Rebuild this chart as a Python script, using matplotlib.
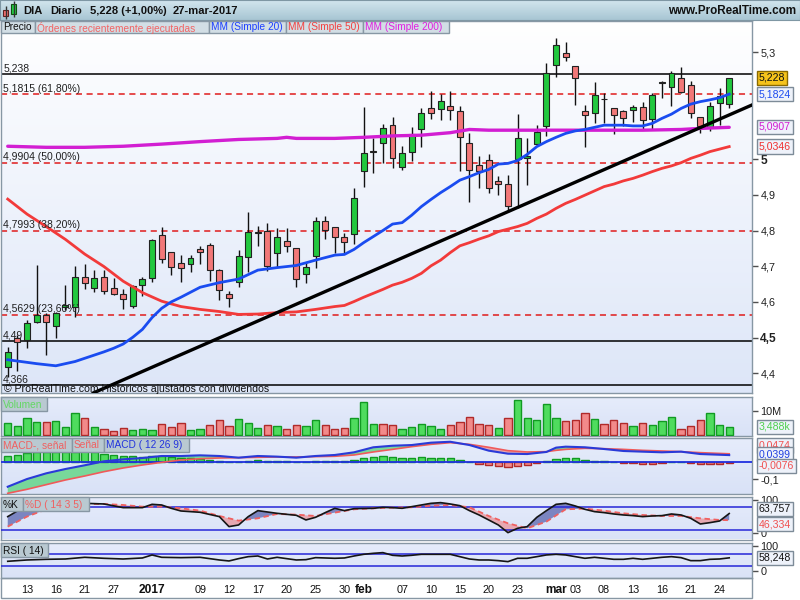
import numpy as np
import matplotlib
matplotlib.use("Agg")
import matplotlib.pyplot as plt
from matplotlib.patches import Rectangle
from matplotlib.colors import LinearSegmentedColormap

plt.rcParams['font.family'] = ['Liberation Sans', 'DejaVu Sans']

# ---------------- data ----------------
opens = [4.417, 4.500, 4.493, 4.543, 4.563, 4.533, 4.586, 4.585, 4.671, 4.638,
         4.671, 4.638, 4.621, 4.588, 4.647, 4.666, 4.787, 4.741, 4.708, 4.706,
         4.747, 4.759, 4.689, 4.621, 4.655, 4.725, 4.794, 4.799, 4.736, 4.771,
         4.750, 4.678, 4.729, 4.828, 4.809, 4.781, 4.789, 4.968, 5.020, 5.044,
         5.095, 4.977, 5.021, 5.083, 5.142, 5.139, 5.149, 5.136, 5.044, 4.983,
         4.997, 4.939, 4.930, 5.000, 5.002, 5.042, 5.093, 5.264, 5.296, 5.261,
         5.135, 5.128, 5.168, 5.142, 5.136, 5.138, 5.147, 5.111, 5.212, 5.203,
         5.226, 5.208, 5.119, 5.091, 5.156, 5.154]
highs = [4.474, 4.507, 4.549, 4.703, 4.568, 4.573, 4.647, 4.701, 4.705, 4.689,
         4.689, 4.666, 4.635, 4.647, 4.671, 4.775, 4.811, 4.741, 4.731, 4.731,
         4.757, 4.764, 4.692, 4.630, 4.745, 4.853, 4.813, 4.822, 4.806, 4.806,
         4.750, 4.713, 4.837, 4.841, 4.809, 4.792, 4.918, 5.147, 5.058, 5.097,
         5.117, 5.037, 5.091, 5.142, 5.191, 5.182, 5.191, 5.149, 5.074, 5.009,
         5.014, 4.953, 4.955, 5.126, 5.058, 5.095, 5.268, 5.340, 5.329, 5.261,
         5.152, 5.217, 5.184, 5.142, 5.138, 5.152, 5.161, 5.184, 5.219, 5.247,
         5.259, 5.220, 5.119, 5.161, 5.200, 5.228]
lows = [4.390, 4.407, 4.470, 4.540, 4.451, 4.498, 4.577, 4.559, 4.635, 4.629,
        4.621, 4.619, 4.579, 4.582, 4.617, 4.657, 4.708, 4.675, 4.657, 4.685,
        4.706, 4.658, 4.605, 4.587, 4.643, 4.685, 4.757, 4.687, 4.699, 4.741,
        4.643, 4.654, 4.694, 4.775, 4.738, 4.736, 4.762, 4.923, 4.962, 4.990,
        4.976, 4.969, 4.996, 5.033, 5.111, 5.109, 5.109, 4.968, 4.879, 4.920,
        4.906, 4.899, 4.853, 4.864, 4.927, 5.037, 5.065, 5.229, 5.276, 5.152,
        5.033, 5.102, 5.102, 5.069, 5.093, 5.105, 5.083, 5.083, 5.170, 5.149,
        5.185, 5.114, 5.074, 5.080, 5.095, 5.142]
closes = [4.460, 4.488, 4.540, 4.563, 4.543, 4.568, 4.590, 4.671, 4.652, 4.666,
          4.630, 4.622, 4.608, 4.644, 4.664, 4.773, 4.719, 4.699, 4.694, 4.722,
          4.739, 4.689, 4.633, 4.610, 4.729, 4.795, 4.796, 4.701, 4.781, 4.757,
          4.663, 4.697, 4.828, 4.801, 4.781, 4.769, 4.890, 5.016, 5.024, 5.086,
          5.002, 5.016, 5.069, 5.128, 5.128, 5.163, 5.138, 5.061, 4.969, 4.968,
          4.918, 4.929, 4.869, 5.058, 5.009, 5.077, 5.240, 5.320, 5.285, 5.226,
          5.124, 5.180, 5.167, 5.124, 5.114, 5.147, 5.109, 5.180, 5.215, 5.240,
          5.189, 5.128, 5.093, 5.150, 5.176, 5.228]

volume_m = [4.86, 3.75, 6.94, 5.28, 5.28, 5.83, 3.19, 9.03, 6.94, 3.19,
            2.36, 1.81, 2.78, 1.94, 2.36, 1.94, 4.44, 3.19, 4.86, 1.94,
            2.36, 4.17, 6.11, 3.75, 6.53, 4.86, 2.78, 4.17, 3.75, 2.36,
            4.17, 3.75, 6.11, 4.17, 2.50, 2.78, 6.94, 13.6, 4.44, 4.44,
            4.17, 2.36, 3.19, 4.58, 3.75, 2.36, 4.17, 5.28, 7.36, 4.58,
            4.17, 2.78, 6.94, 14.44, 6.94, 6.11, 12.78, 6.94, 5.69, 6.11,
            9.03, 6.53, 4.44, 6.11, 4.86, 3.75, 4.86, 4.17, 5.69, 7.36,
            2.36, 3.75, 6.11, 9.03, 4.17, 3.49]
volume_up = [1, 1, 1, 1, 0, 1, 1, 1, 0, 1,
             0, 0, 0, 1, 1, 1, 0, 0, 0, 1,
             1, 0, 0, 0, 1, 1, 1, 0, 1, 0,
             0, 1, 1, 0, 0, 0, 1, 1, 1, 0,
             0, 1, 1, 1, 1, 1, 0, 0, 0, 0,
             0, 1, 0, 1, 1, 1, 1, 1, 0, 0,
             0, 1, 0, 0, 0, 1, 0, 1, 1, 1,
             0, 0, 0, 1, 1, 1]

ma20_idx = [0, 3, 5, 7, 10, 11, 12, 13, 14, 15, 16, 17, 18, 20, 22, 24, 26, 28, 30, 32,
            34, 35, 36, 37, 38, 39, 40, 41, 42, 43, 44, 45, 46, 47, 48, 49, 50, 51, 52,
            53, 54, 55, 56, 57, 58, 59, 60, 61, 62, 63, 64, 65, 66, 67, 68, 69, 70, 71,
            72, 73, 74, 75]
ma20_val = [4.438, 4.427, 4.421, 4.433, 4.460, 4.470, 4.482, 4.501, 4.523, 4.556, 4.582,
            4.600, 4.613, 4.641, 4.654, 4.664, 4.689, 4.696, 4.702, 4.717, 4.731, 4.733,
            4.747, 4.766, 4.783, 4.800, 4.818, 4.822, 4.843, 4.867, 4.887, 4.906, 4.923,
            4.941, 4.951, 4.962, 4.971, 4.986, 4.988, 4.996, 5.013, 5.035, 5.049, 5.061,
            5.072, 5.079, 5.083, 5.089, 5.095, 5.095, 5.095, 5.093, 5.093, 5.100, 5.114,
            5.126, 5.142, 5.154, 5.161, 5.166, 5.172, 5.182]
ma50_idx = [0, 2, 4, 6, 8, 10, 12, 14, 16, 18, 20, 22, 24, 26, 28, 30, 32, 34, 35, 36,
            37, 38, 39, 40, 41, 42, 43, 44, 45, 46, 47, 48, 49, 50, 51, 52, 53, 54, 55,
            56, 57, 58, 59, 60, 61, 62, 63, 64, 65, 66, 67, 68, 69, 70, 71, 72, 73, 74, 75]
ma50_val = [4.888, 4.846, 4.811, 4.775, 4.734, 4.699, 4.658, 4.626, 4.602, 4.587,
            4.579, 4.573, 4.565, 4.566, 4.570, 4.572, 4.579, 4.587, 4.590, 4.601,
            4.613, 4.624, 4.635, 4.647, 4.655, 4.666, 4.680, 4.701, 4.717, 4.738,
            4.757, 4.766, 4.776, 4.785, 4.797, 4.804, 4.811, 4.820, 4.834, 4.846,
            4.862, 4.876, 4.887, 4.899, 4.911, 4.923, 4.930, 4.939, 4.946, 4.955,
            4.965, 4.974, 4.981, 4.990, 5.002, 5.011, 5.021, 5.028, 5.035]
ma200_idx = [0, 4, 8, 12, 16, 20, 24, 28, 29, 30, 34, 37, 40, 43, 46, 48, 50, 54, 60,
             66, 70, 72, 75]
ma200_val = [5.036, 5.033, 5.033, 5.036, 5.042, 5.049, 5.055, 5.058, 5.061, 5.058,
             5.058, 5.061, 5.065, 5.067, 5.074, 5.083, 5.081, 5.081, 5.081, 5.081,
             5.083, 5.086, 5.089]

fib_levels = [5.238, 5.1815, 4.9904, 4.7993, 4.5629, 4.49, 4.366]
fib_labels = ['5,238', '5,1815 (61,80%)', '4,9904 (50,00%)', '4,7993 (38,20%)',
              '4,5629 (23,60%)', '4,49', '4,366']
fib_solid = [True, False, False, False, False, True, True]

trend_idx = [8.9, 77.4]
trend_val = [4.345, 5.152]

macd_idx = [0, 2, 4, 6, 8, 10, 12, 14, 16, 18, 20, 22, 24, 26, 28, 30, 32, 34, 36, 38,
            40, 42, 44, 46, 48, 50, 52, 54, 56, 57, 58, 60, 62, 64, 66, 68, 70, 72, 75]
macd_val = [-0.143, -0.0985, -0.0655, -0.0405, -0.019, 0.004, 0.0154, 0.023, 0.0347,
            0.0347, 0.0385, 0.0347, 0.025, 0.0347, 0.031, 0.025, 0.0347, 0.0405, 0.056,
            0.085, 0.094, 0.098, 0.1117, 0.117, 0.098, 0.0655, 0.048, 0.046, 0.058,
            0.083, 0.0886, 0.085, 0.075, 0.0636, 0.0597, 0.056, 0.0597, 0.046, 0.0399]
signal_val = [-0.181, -0.158, -0.131, -0.104, -0.081, -0.056, -0.0347, -0.0173, -0.002,
              0.0116, 0.019, 0.023, 0.025, 0.027, 0.029, 0.029, 0.031, 0.033, 0.0405,
              0.058, 0.073, 0.0886, 0.102, 0.1117, 0.102, 0.085, 0.0655, 0.058, 0.0597,
              0.0674, 0.073, 0.079, 0.077, 0.073, 0.0674, 0.0636, 0.0597, 0.054, 0.0474]
hist_val = [0.0366, 0.0424, 0.052, 0.0559, 0.0559, 0.0578, 0.0578, 0.0578, 0.0617, 0.0578,
            0.0482, 0.0405, 0.0366, 0.0328, 0.027, 0.0328, 0.0328, 0.0289, 0.0231, 0.0231,
            0.0173, 0.0135, 0.0077, 0.0, 0.0, 0.0077, 0.0135, 0.0077, 0.0077, 0.0077,
            0.0, 0.0, 0.0077, 0.0077, 0.0077, 0.0077, 0.0135, 0.0231, 0.027, 0.0328,
            0.027, 0.0231, 0.0231, 0.0289, 0.0231, 0.0231, 0.0231, 0.0135, 0.0, -0.0096,
            -0.0154, -0.0231, -0.027, -0.0231, -0.0154, -0.0077, 0.0058, 0.0173, 0.0231, 0.0231,
            0.0135, 0.0077, 0.0077, 0.0, -0.0058, -0.0058, -0.0096, -0.0096, -0.0058, 0.0,
            0.0, -0.0058, -0.0096, -0.0096, -0.0096, -0.0076]

stoch_k_idx = [0, 2, 4, 6, 8, 10, 12, 14, 15, 16, 17, 18, 20, 22, 23, 24, 25, 26, 28, 30,
               31, 32, 33, 34, 35, 36, 38, 39, 40] + list(range(41, 76))
stoch_k = [55.7, 85.2, 90.4, 90.4, 90.4, 88.7, 79.1, 79.1, 87.8, 86.1, 77.4, 70.4, 67.0,
           55.7, 29.6, 33.9, 55.7, 71.3, 64.3, 59.1, 47.0, 53.9, 66.1, 77.4, 71.3, 76.5,
           77.4, 80.0, 79.1,
           77.4, 81.7, 86.1, 90.4, 92.2, 88.7, 84.3, 71.3, 60.0, 47.0, 33.9, 13.9, 25.2,
           29.6, 53.9, 71.3, 87.8, 90.4, 83.5, 74.8, 68.7, 66.1, 62.6, 60.0, 58.3, 55.7,
           57.4, 58.3, 62.6, 60.0, 51.3, 36.5, 40.0, 44.3, 63.76]
stoch_d_idx = list(range(0, 75, 2)) + [75]
stoch_d = [29.6, 55.7, 74.8, 83.5, 88.7, 88.7, 86.1, 81.7, 81.7, 77.4, 71.3, 57.4, 45.2,
           51.3, 62.6, 60.9, 57.4, 66.1, 74.8, 77.4, 79.1, 80.0, 84.3, 86.1, 80.0, 57.4,
           38.3, 25.2, 42.6, 74.8, 76.5, 71.3, 64.3, 60.0, 57.4, 57.4, 51.3, 47.0, 46.33]

rsi_idx = [0, 2, 4, 6, 8, 10, 12, 14, 15, 16, 18, 20, 22, 23, 24, 25, 26, 27, 28, 30, 31,
           32, 34, 35, 36, 37, 38, 39, 40] + list(range(41, 76))
rsi_val = [46.7, 51.1, 53.3, 54.4, 60.0, 56.7, 54.4, 57.8, 67.8, 60.0, 58.9, 60.0, 51.1,
           47.8, 55.6, 62.2, 64.4, 54.4, 60.0, 51.1, 52.2, 58.9, 56.7, 57.8, 64.4, 70.0,
           73.3, 75.6, 66.7,
           64.4, 66.7, 70.0, 70.0, 70.0, 70.0, 62.2, 54.4, 51.1, 51.1, 48.9, 45.6, 56.7,
           56.7, 62.2, 67.8, 70.0, 67.8, 62.2, 56.7, 60.0, 56.7, 53.3, 53.3, 56.7, 53.3,
           56.7, 60.0, 62.2, 58.9, 48.9, 48.9, 53.3, 54.4, 58.25]

xtick_idx = [2, 5, 8, 11, 15, 20, 23, 26, 29, 32, 35, 37, 41, 44, 47, 50, 53, 57, 59, 62,
             65, 68, 71, 74]
xtick_lab = ['13', '16', '21', '27', '2017', '09', '12', '17', '20', '25', '30', 'feb',
             '07', '10', '15', '20', '23', 'mar', '03', '08', '13', '16', '21', '24']
xtick_bold = ['2017', 'feb', 'mar']

# ---------------- layout helpers ----------------
W, H = 800.0, 600.0
fig = plt.figure(figsize=(8, 6), dpi=100)
fig.patch.set_facecolor('white')
EDGE = '#8797a4'


def px_axes(x0, y0, x1, y1, z=1):
    return fig.add_axes([x0 / W, 1 - y1 / H, (x1 - x0) / W, (y1 - y0) / H], zorder=z)


def gradient(ax, c_top, c_bot):
    cmap = LinearSegmentedColormap.from_list('bg', [c_top, c_bot])
    ax.imshow(np.linspace(0, 1, 256).reshape(-1, 1), cmap=cmap, aspect='auto',
              extent=[0, 1, 0, 1], transform=ax.transAxes, zorder=-10,
              interpolation='bilinear')


def frame(ax):
    for s in ax.spines.values():
        s.set_color(EDGE)
        s.set_linewidth(1)
    ax.set_xticks([])
    ax.yaxis.tick_right()
    ax.tick_params(axis='y', length=4, width=1, color='#505050', pad=2,
                   labelsize=7.8, labelcolor='#202020')


def value_box(ax, y, text, tc, fc='#eef2fa', ec='#7d8b98', z=20):
    ax.annotate(text, xy=(1, y), xycoords=ax.get_yaxis_transform(),
                xytext=(5, 0), textcoords='offset points', va='center', ha='left',
                fontsize=7.6, color=tc, annotation_clip=False, zorder=z,
                bbox=dict(boxstyle='square,pad=0.2', fc=fc, ec=ec, lw=1))


XL = (-0.7, 77.37)
N = len(closes)
idx = np.arange(N)

# ---------------- header ----------------
axh = px_axes(0, 0, 800, 20)
gradient(axh, '#d3e6ee', '#a7c5d3')
axh.set_xlim(0, 800)
axh.set_ylim(20, 0)
axh.set_xticks([]); axh.set_yticks([])
for s in axh.spines.values():
    s.set_color('#7f97a4')
axh.vlines(5.5, 6, 19, color='#333', lw=1)
axh.add_patch(Rectangle((3, 10), 5, 6, fc='#f07070', ec='#602020', lw=0.8))
axh.vlines(13.5, 1, 17, color='#333', lw=1)
axh.add_patch(Rectangle((11, 4), 5, 10, fc='#22cc44', ec='#105010', lw=0.8))
for x, t in [(23, 'DIA'), (50, 'Diario'), (90, '5,228 (+1,00%)'), (173, '27-mar-2017')]:
    axh.text(x, 10.5, t, fontsize=8.0, fontweight='bold', va='center', ha='left', color='#111')
axh.text(796, 10.5, 'www.ProRealTime.com', fontsize=8.4, fontweight='bold', va='center',
         ha='right', color='#111')

# ---------------- main price panel ----------------
ax = px_axes(1, 20.7, 752, 393)
gradient(ax, '#ffffff', '#dde6f8')
frame(ax)

for lev, lab, solid in zip(fib_levels, fib_labels, fib_solid):
    if solid:
        ax.axhline(lev, color='black', lw=1.1, zorder=2)
    else:
        ax.axhline(lev, color='#e01c1c', lw=1.1, ls=(0, (4, 3)), zorder=2)
    ax.annotate(lab, xy=(0, lev), xycoords=ax.get_yaxis_transform(), xytext=(1.5, 0.5),
                textcoords='offset points', fontsize=7.5, color='#202020', va='bottom',
                ha='left', zorder=6)

o = np.array(opens); c = np.array(closes); hi = np.array(highs); lo = np.array(lows)
up = c >= o
ax.vlines(idx, lo, hi, color='#111', lw=1, zorder=3)
body_bot = np.minimum(o, c)
body_h = np.maximum(np.abs(c - o), 0.0015)
cols = ['#22c83e' if u else '#f27878' for u in up]
ax.bar(idx, body_h, bottom=body_bot, width=0.62, color=cols, edgecolor='#222',
       linewidth=0.8, zorder=4)

ax.plot(ma200_idx, ma200_val, color='#d21ed2', lw=2.4, zorder=5, solid_capstyle='round')
ax.plot(ma50_idx, ma50_val, color='#f23a3a', lw=2.0, zorder=5)
ax.plot(ma20_idx, ma20_val, color='#1a4cf0', lw=2.0, zorder=5)
ax.plot(trend_idx, trend_val, color='black', lw=2.4, zorder=6)

ax.set_xlim(*XL)
ax.set_ylim(4.3448, 5.3877)
main_ticks = [4.4, 4.5, 4.6, 4.7, 4.8, 4.9, 5.0, 5.3]
main_tick_labels = ['4,4', '4,5', '4,6', '4,7', '4,8', '4,9', '5', '5,3']
ax.set_yticks(main_ticks)
ax.set_yticklabels(main_tick_labels)
for t in ax.get_yticklabels():
    if t.get_text() in ('5', '4,5'):
        t.set_fontweight('bold')
        t.set_fontsize(8.6)
value_box(ax, closes[-1], '5,228', '#111', fc='#f5c31c', ec='#8a6a00')
value_box(ax, ma20_val[-1], '5,1824', '#1e4cf0')
value_box(ax, 5.0907, '5,0907', '#d21ed2')
value_box(ax, ma50_val[-1], '5,0346', '#f03030')
ax.text(0.004, 0.010, '© ProRealTime.com Históricos ajustados con dividendos',
        transform=ax.transAxes, fontsize=7.6, color='#111', va='center', ha='left', zorder=7)

# ---------------- volume ----------------
axv = px_axes(1, 397, 752, 436)
gradient(axv, '#e6ecfb', '#d9e2f7')
frame(axv)
vcol = ['#4fdc5e' if u else '#f28a8a' for u in volume_up]
vedge = ['#119a22' if u else '#b02a2a' for u in volume_up]
axv.bar(idx, volume_m, width=0.76, color=vcol, edgecolor=vedge, linewidth=1, zorder=3)
axv.set_xlim(*XL)
axv.set_ylim(-0.42, 15.83)
axv.set_yticks([10])
axv.set_yticklabels(['10M'])
value_box(axv, volume_m[-1], '3,488k', '#4fd04f')

# ---------------- MACD ----------------
axm = px_axes(1, 438, 752, 494)
gradient(axm, '#e6ecfb', '#d9e2f7')
frame(axm)
mi = np.array(macd_idx, float); mv = np.array(macd_val); sv = np.array(signal_val)
hv = np.array(hist_val)
hcol = ['#4fdc5e' if h >= 0 else '#f28a8a' for h in hv]
hedge = ['#119a22' if h >= 0 else '#b02a2a' for h in hv]
axm.bar(idx, hv, width=0.76, color=hcol, edgecolor=hedge, linewidth=1, zorder=3)
axm.axhline(0, color='#2030e0', lw=1.3, zorder=4)
axm.fill_between(mi, mv, sv, where=mv >= sv, interpolate=True, color='#66d68a', alpha=0.85,
                 lw=0, zorder=2)
axm.fill_between(mi, mv, sv, where=mv < sv, interpolate=True, color='#e6a0a8', alpha=0.9,
                 lw=0, zorder=2)
axm.plot(mi, sv, color='#f05a5a', lw=1.2, zorder=5)
axm.plot(mi, mv, color='#2a3ad8', lw=1.5, zorder=5)
axm.set_xlim(*XL)
axm.set_ylim(-0.185, 0.1387)
axm.set_yticks([-0.1])
axm.set_yticklabels(['-0,1'])
value_box(axm, 0.095, '0,0474', '#f05050', z=18)
value_box(axm, 0.044, '0,0399', '#2040e0', z=19)
value_box(axm, -0.023, '-0,0076', '#f05050', z=20)

# ---------------- Stochastic ----------------
axs = px_axes(1, 497, 752, 539.5)
gradient(axs, '#e6ecfb', '#d9e2f7')
frame(axs)
ki = np.array(stoch_k_idx, float); kv = np.array(stoch_k)
dv_on_k = np.interp(ki, stoch_d_idx, stoch_d)
axs.fill_between(ki, kv, dv_on_k, where=kv >= dv_on_k, interpolate=True, color='#6a74b8',
                 alpha=0.85, lw=0, zorder=2)
axs.fill_between(ki, kv, dv_on_k, where=kv < dv_on_k, interpolate=True, color='#e8a2aa',
                 alpha=0.9, lw=0, zorder=2)
axs.axhline(80, color='#2626d8', lw=1.1, zorder=3)
axs.axhline(20, color='#2626d8', lw=1.1, zorder=3)
axs.plot(stoch_d_idx, stoch_d, color='#f06060', lw=1.3, ls=(0, (3, 2)), zorder=4)
axs.plot(ki, kv, color='#151515', lw=1.2, zorder=5)
axs.set_xlim(*XL)
axs.set_ylim(-4.0, 106.9)
axs.set_yticks([100, 12])
axs.set_yticklabels(['100', '0'])
value_box(axs, 75.6, '63,757', '#111')
value_box(axs, 36.4, '46,334', '#f05050')

# ---------------- RSI ----------------
axr = px_axes(1, 543, 752, 577.5)
gradient(axr, '#e6ecfb', '#d9e2f7')
frame(axr)
axr.axhline(70, color='#2626d8', lw=1.1, zorder=3)
axr.axhline(30, color='#2626d8', lw=1.1, zorder=3)
axr.plot(rsi_idx, rsi_val, color='#151515', lw=1.2, zorder=5)
axr.set_xlim(*XL)
axr.set_ylim(-7.3, 107.7)
axr.set_yticks([98, 15])
axr.set_yticklabels(['100', '0'])
value_box(axr, rsi_val[-1], '58,248', '#111')

for i, lab in zip(xtick_idx, xtick_lab):
    b = lab in xtick_bold
    axr.text(i, -0.37, lab, transform=axr.get_xaxis_transform(), ha='center', va='center',
             fontsize=8.6 if b else 7.8, fontweight='bold' if b else 'normal',
             color='#111', clip_on=False)

# ---------------- overlay: legend boxes and frames ----------------
ov = fig.add_axes([0, 0, 1, 1], zorder=50)
ov.set_xlim(0, 800)
ov.set_ylim(600, 0)
ov.axis('off')
ov.patch.set_alpha(0)


def legend_row(items, y0, y1, fc, fs=7.3):
    for text, x0, x1, tc in items:
        ov.add_patch(Rectangle((x0, y0), x1 - x0, y1 - y0, fc=fc, ec=EDGE, lw=1))
        ov.text(x0 + 2, (y0 + y1) / 2 + 0.5, text, color=tc, fontsize=fs, va='center',
                ha='left')


legend_row([('Precio', 1, 35, '#111'),
            ('Órdenes recientemente ejecutadas', 35, 209, '#f26464'),
            ('MM (Simple 20)', 209, 286, '#1e40ff'),
            ('MM (Simple 50)', 286, 363, '#f24040'),
            ('MM (Simple 200)', 363, 449, '#e020e0')], 20.7, 33.3, '#d2dee5')
legend_row([('Volumen', 1, 47, '#62d862')], 397, 411, '#b9c9d1')
legend_row([('MACD-, señal', 1, 72, '#f06060'), ('Señal', 72, 104, '#f06060'),
            ('MACD ( 12 26 9)', 104, 189, '#2233dd')], 438, 452, '#b9c9d1')
legend_row([('%K', 1, 23, '#111'), ('%D ( 14 3 5)', 23, 89, '#f06060')], 497, 511, '#b9c9d1')
legend_row([('RSI ( 14)', 1, 48, '#111')], 543, 557, '#b9c9d1')
ov.add_patch(Rectangle((1, 577.5), 751, 20.5, fill=False, ec=EDGE, lw=1))

fig.savefig('out.png', dpi=100)
